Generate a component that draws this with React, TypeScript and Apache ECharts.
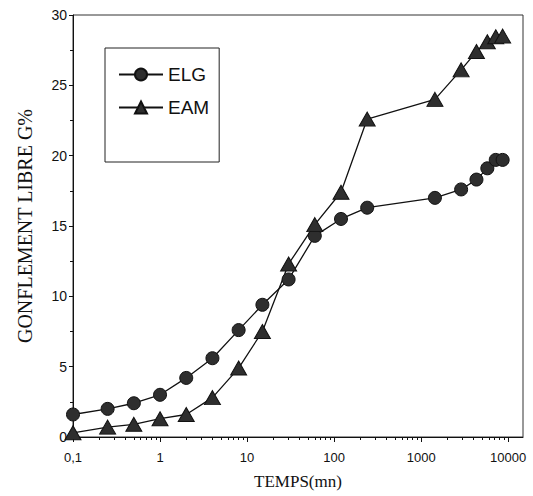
import React, { useEffect, useRef } from "react";
import * as echarts from "echarts";

const times = [0.1, 0.25, 0.5, 1, 2, 4, 8, 15, 30, 60, 120, 240, 1440, 2880, 4320, 5760, 7200, 8640];
const elg = [1.6, 2.0, 2.4, 3.0, 4.2, 5.6, 7.6, 9.4, 11.2, 14.3, 15.5, 16.3, 17.0, 17.6, 18.3, 19.1, 19.7, 19.7];
const eam = [0.3, 0.7, 0.9, 1.3, 1.6, 2.8, 4.9, 7.5, 12.3, 15.1, 17.4, 22.6, 24.0, 26.1, 27.4, 28.1, 28.45, 28.5];
const xMajorTicks = [0.1, 1, 10, 100, 1000, 10000];
const xMajorLabels = ["0,1", "1", "10", "100", "1000", "10000"];
const minorMultipliers = [2, 3, 4, 5, 6, 7, 8, 9];
const xMinorTicks: number[] = [];
xMajorTicks.slice(0, 5).forEach((d) => minorMultipliers.forEach((m) => xMinorTicks.push(Number((d * m).toPrecision(3)))));

export default function App() {
  const ref = useRef<HTMLDivElement>(null);
  useEffect(() => {
    if (!ref.current) return;
    const chart = echarts.init(ref.current, null, { renderer: "svg" });
    const sans = "'Liberation Sans', Arial, sans-serif";
    const serif = "'Liberation Serif', 'Times New Roman', serif";
    chart.setOption({
      animation: false,
      backgroundColor: "#ffffff",
      grid: {
        left: 73,
        right: 10,
        top: 15,
        bottom: 59,
        show: true,
        borderColor: "#333",
        borderWidth: 1,
      },
      legend: {
        data: ["ELG", "EAM"],
        orient: "vertical",
        left: 105,
        top: 48,
        itemWidth: 44,
        itemHeight: 15,
        itemGap: 14,
        padding: [17, 10, 45, 13],
        borderColor: "#222",
        borderWidth: 1,
        textStyle: { fontSize: 19, fontFamily: sans, color: "#111" },
      },
      xAxis: [
        {
          type: "log",
          logBase: 10,
          min: 0.1,
          max: 14800,
          name: "TEMPS(mn)",
          nameLocation: "middle",
          nameGap: 36,
          nameTextStyle: { fontSize: 17, fontFamily: serif, color: "#111" },
          axisLine: { show: true, lineStyle: { color: "#111", width: 1 } },
          axisTick: { show: true, inside: false, length: 5, customValues: xMajorTicks, lineStyle: { color: "#111" } },
          axisLabel: {
            customValues: xMajorTicks,
            fontSize: 13,
            fontFamily: sans,
            color: "#111",
            margin: 14,
            formatter: (v: number) => {
              const i = xMajorTicks.findIndex((t) => Math.abs(t - v) / t < 1e-6);
              return i >= 0 ? xMajorLabels[i] : "";
            },
          },
          splitLine: { show: false },
        },
        {
          type: "log",
          logBase: 10,
          min: 0.1,
          max: 14800,
          position: "bottom",
          axisLine: { show: false },
          axisTick: { show: true, inside: false, length: 3, customValues: xMinorTicks, lineStyle: { color: "#111" } },
          axisLabel: { show: false },
          splitLine: { show: false },
        },
      ],
      yAxis: {
        type: "value",
        min: 0,
        max: 30,
        interval: 5,
        name: "GONFLEMENT LIBRE G%",
        nameLocation: "middle",
        nameGap: 38,
        nameTextStyle: { fontSize: 20, fontFamily: serif, color: "#111" },
        axisLine: { show: true, lineStyle: { color: "#111", width: 1 } },
        axisTick: { show: true, inside: false, length: 4, lineStyle: { color: "#111" } },
        minorTick: { show: true, splitNumber: 2, length: 3, lineStyle: { color: "#111" } },
        axisLabel: { fontSize: 14, fontFamily: sans, color: "#111", margin: 6 },
        splitLine: { show: false },
      },
      series: [
        {
          name: "ELG",
          type: "line",
          xAxisIndex: 0,
          data: times.map((t, i) => [t, elg[i]]),
          symbol: "circle",
          symbolSize: 13,
          lineStyle: { color: "#111", width: 1.3 },
          itemStyle: { color: "#2e2e2e", borderColor: "#111", borderWidth: 1 },
        },
        {
          name: "EAM",
          type: "line",
          xAxisIndex: 0,
          data: times.map((t, i) => [t, eam[i]]),
          symbol: "triangle",
          symbolSize: [16, 14],
          lineStyle: { color: "#111", width: 1.3 },
          itemStyle: { color: "#2e2e2e", borderColor: "#111", borderWidth: 1 },
        },
      ],
    });
    return () => chart.dispose();
  }, []);
  return <div ref={ref} style={{ position: "absolute", left: 0, top: 0, width: 533, height: 496 }} />;
}
